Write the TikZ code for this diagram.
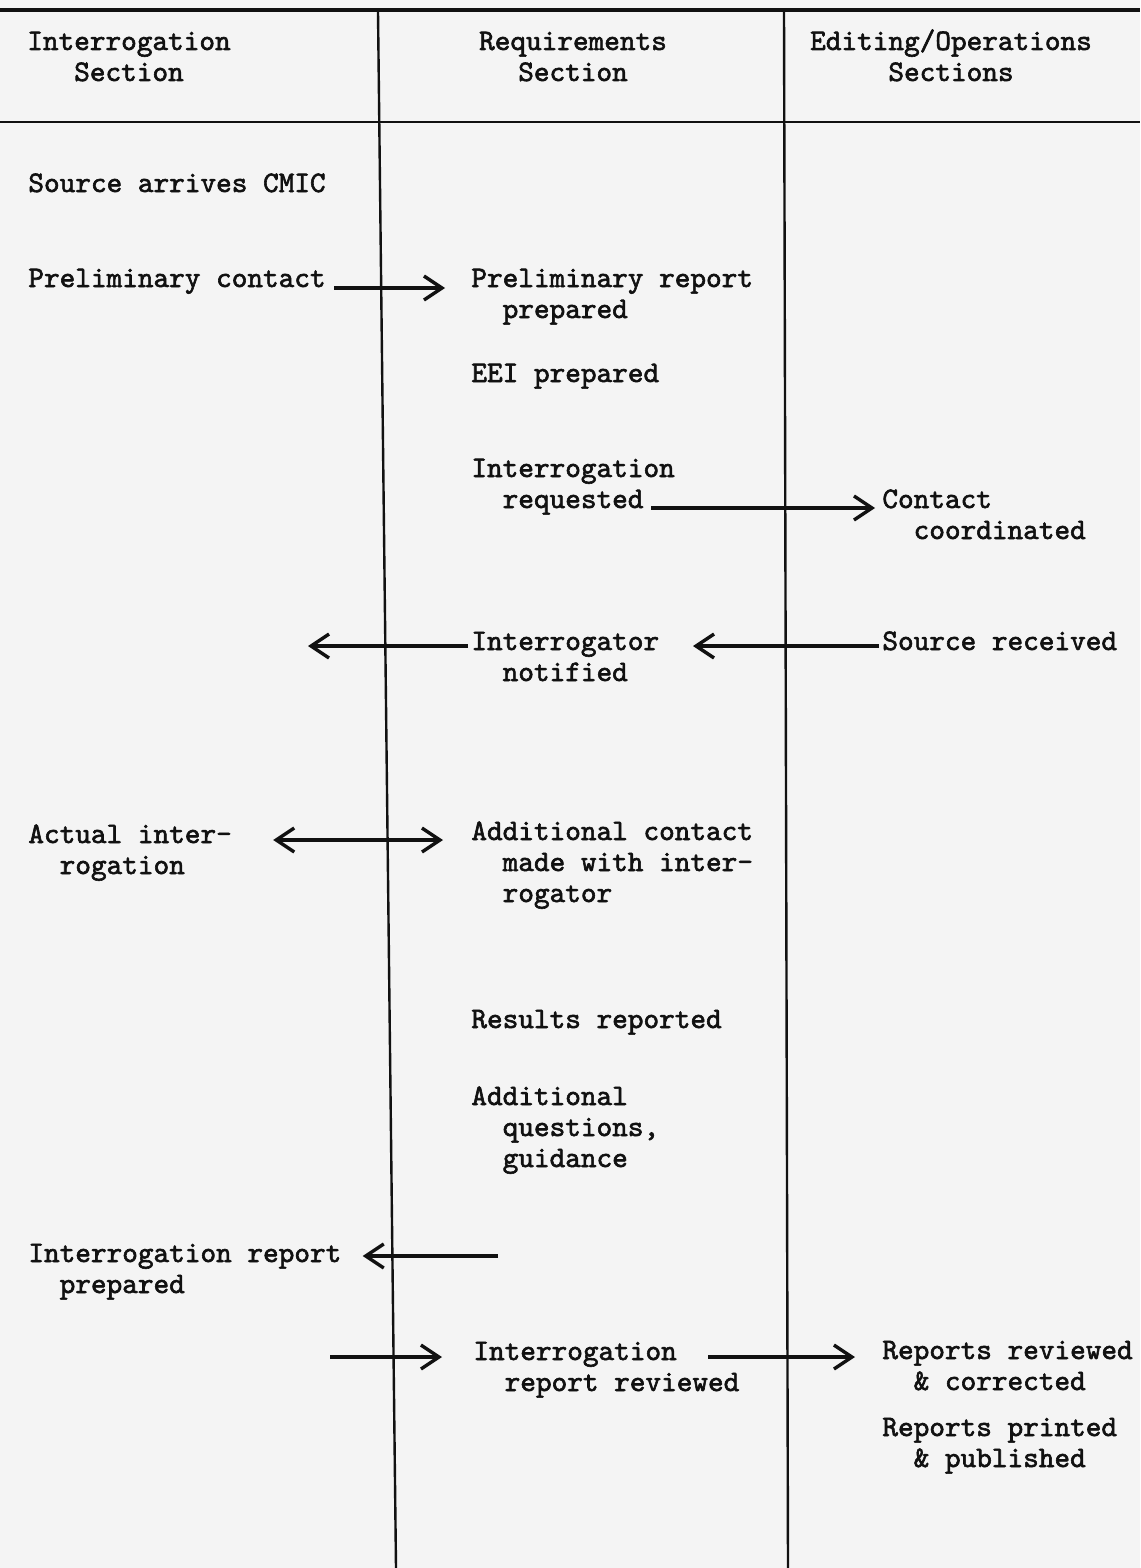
\documentclass[tikz,border=0pt]{standalone}
\usepackage{fontspec}
\usetikzlibrary{arrows.meta,calc}
\newfontfamily\typewriter{lmmono10-regular}[Extension=.otf,FakeBold=2]
\definecolor{paper}{HTML}{F4F4F4}
\definecolor{ink}{HTML}{111111}
% two-character hanging indent for continuation lines
\newcommand\twoin{\phantom{xx}}
\begin{document}
\begin{tikzpicture}[x=0.5pt,y=-0.5pt,
  txt/.style={inner sep=0pt,align=left,anchor=base west,text=ink,
    font=\typewriter\fontsize{14.9pt}{15.5pt}\selectfont},
  head/.style={txt,align=center,anchor=base},
  rulethick/.style={draw=ink,line width=2pt},
  rule/.style={draw=ink,line width=1.2pt},
  flow/.style={draw=ink,line width=1.7pt,-{Straight Barb[length=9pt,width=12pt]}},
  flowboth/.style={draw=ink,line width=1.7pt,
    {Straight Barb[length=9pt,width=12pt]}-{Straight Barb[length=9pt,width=12pt]}},
]
\fill[paper] (0,0) rectangle (1140,1568);
\useasboundingbox (0,0) rectangle (1140,1568);

% table rules
\draw[rulethick] (0,10) -- (1140,10);
\draw[rule] (0,122) -- (1140,122);
\draw[rule] (378,12) -- (396,1568);
\draw[rule] (784,12) -- (788,1568);

% column headings (positions give the baseline of the last line)
\node[head] (hI) at (129,81) {Interrogation\\Section};
\node[head] (hR) at (573,81) {Requirements\\Section};
\node[head] (hE) at (951,81) {Editing/Operations\\Sections};

% steps (positions give the baseline of the last line)
\node[txt] (sac) at (28,192) {Source arrives CMIC};
\node[txt] (pc)  at (28,287) {Preliminary contact};
\node[txt] (prr) at (471,318) {Preliminary report\\\twoin prepared};
\node[txt] (eei) at (471,382) {EEI prepared};
\node[txt] (ir)  at (471,508) {Interrogation\\\twoin requested};
\node[txt] (cc)  at (882,539) {Contact\\\twoin coordinated};
\node[txt] (in)  at (471,681) {Interrogator\\\twoin notified};
\node[txt] (sr)  at (882,650) {Source received};
\node[txt] (ai)  at (28,874) {Actual inter-\\\twoin rogation};
\node[txt] (acm) at (471,902) {Additional contact\\\twoin made with inter-\\\twoin rogator};
\node[txt] (rr)  at (471,1028) {Results reported};
\node[txt] (aq)  at (471,1167) {Additional\\\twoin questions,\\\twoin guidance};
\node[txt] (irp) at (28,1293) {Interrogation report\\\twoin prepared};
\node[txt] (irr) at (473,1391) {Interrogation\\\twoin report reviewed};
\node[txt] (rrc) at (882,1390) {Reports reviewed\\\twoin\& corrected};
\node[txt] (rpp) at (882,1467) {Reports printed\\\twoin\& published};

% free arrow ends
\coordinate (a3) at (308,646);
\coordinate (a6) at (498,1256);
\coordinate (a7) at (330,1357);

% flow arrows
\draw[flow] ($(pc.base east)+(8,1)$) -- ($(prr.base west)+(-26,-30)$);
\draw[flow] ($(ir.base west)+(180,0)$) -- ($(cc.base west)+(-7,-31)$);
\draw[flow] ($(in.base west)+(-3,-35)$) -- (a3);
\draw[flow] ($(sr.base west)+(-3,-4)$) -- ($(in.base west)+(222,-35)$);
\draw[flowboth] ($(ai.base east)+(41,-34)$) -- ($(acm.base west)+(-28,-62)$);
\draw[flow] (a6) -- ($(irp.base east)+(21,-37)$);
\draw[flow] (a7) -- ($(irr.base west)+(-31,-34)$);
\draw[flow] ($(irr.base west)+(235,-34)$) -- ($(rrc.base west)+(-27,-33)$);
\end{tikzpicture}
\end{document}
